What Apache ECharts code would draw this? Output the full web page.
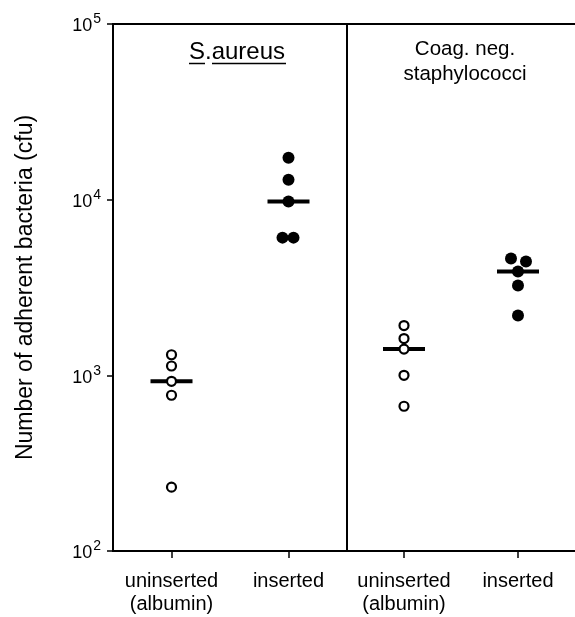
<!DOCTYPE html>
<html>
<head>
<meta charset="utf-8">
<script src="https://cdn.jsdelivr.net/npm/echarts@6/dist/echarts.min.js"></script>
<style>
    html, body { margin: 0; padding: 0; background: #fff; }
    #chart { width: 575px; height: 617px; }
</style>
</head>
<body>
<div id="chart"></div>
<script>
// categories per panel
const groups = ["uninserted\n(albumin)", "inserted"];

// S. aureus (cfu)
const saUninserted = [1310, 1130, 925, 770, 231];
const saInserted = [17300, 13000, 9750, 6080, 6080];
const saMeans = [925, 9750];

// coag. neg. staphylococci (cfu)
const cnUninserted = [1920, 1620, 1410, 1000, 667];
const cnInserted = [4620, 4450, 3900, 3250, 2190];
const cnMeans = [1410, 3900];

// y ticks
const yTicks = [100, 1000, 10000, 100000];

// horizontal jitter of overlapping dots (px)
const saInsertedJitter = [0, 0, 0, -6, 5];
const cnInsertedJitter = [-7, 8, 0, 0, 0];

const FONT = "Liberation Sans";

function pts(idx, vals, jitter) {
    return vals.map((v, i) => ({
        value: [idx, v],
        symbolOffset: [jitter ? jitter[i] : 0, 0],
    }));
}

function supLabel(v) {
    let e = Math.round(Math.log10(v));
    return "{b|10}{s|" + e + "}";
}

let chart = echarts.init(document.getElementById("chart"));

let axisLineStyle = { show: true, lineStyle: { color: "#000", width: 2 } };

let xAxisBase = {
    type: "category",
    data: groups,
    axisLine: axisLineStyle,
    axisTick: { show: true, alignWithLabel: true, length: 7, lineStyle: { color: "#000", width: 1.5 } },
    axisLabel: {
        color: "#000",
        fontFamily: FONT,
        fontSize: 20,
        lineHeight: 23,
        margin: 19,
        interval: 0,
    },
    splitLine: { show: false },
};

// top edge of the right panel (no labels, no ticks)
let xAxisTop = {
    type: "category",
    data: groups,
    position: "top",
    axisLine: axisLineStyle,
    axisTick: { show: false },
    axisLabel: { show: false },
    splitLine: { show: false },
};

let yAxisBase = {
    type: "log",
    logBase: 10,
    min: yTicks[0],
    max: yTicks[yTicks.length - 1],
    splitLine: { show: false },
    minorTick: { show: false },
};

let openStyle = { color: "#fff", borderColor: "#000", borderWidth: 2.2, opacity: 1 };
let fillStyle = { color: "#000", opacity: 1 };

function meanSeries(gi, means) {
    return {
        type: "scatter",
        xAxisIndex: gi,
        yAxisIndex: gi,
        symbol: "rect",
        symbolSize: [42, 4],
        itemStyle: { color: "#000", opacity: 1 },
        z: 2,
        silent: true,
        data: means.map((m, i) => [i, m]),
    };
}

function dotSeries(gi, idx, vals, jitter, open) {
    return {
        type: "scatter",
        xAxisIndex: gi,
        yAxisIndex: gi,
        symbol: "circle",
        symbolSize: open ? 9 : 12,
        itemStyle: open ? openStyle : fillStyle,
        z: 3,
        silent: true,
        data: pts(idx, vals, jitter),
    };
}

chart.setOption({
    animation: false,
    grid: [
        { left: 113, top: 24, width: 234, height: 527, show: true, borderColor: "#000", borderWidth: 2, backgroundColor: "transparent" },
        { left: 347, top: 24, width: 234, height: 527, show: false },
    ],
    xAxis: [
        Object.assign({ gridIndex: 0 }, xAxisBase),
        Object.assign({ gridIndex: 1 }, xAxisBase),
        Object.assign({ gridIndex: 1 }, xAxisTop),
    ],
    yAxis: [
        Object.assign({}, yAxisBase, {
            gridIndex: 0,
            name: "Number of adherent bacteria (cfu)",
            nameLocation: "middle",
            nameRotate: 90,
            nameGap: 76,
            nameTextStyle: { color: "#000", fontFamily: FONT, fontSize: 23 },
            axisLine: axisLineStyle,
            axisTick: { show: true, inside: false, length: 6, lineStyle: { color: "#000", width: 1.5 } },
            axisLabel: {
                show: true,
                margin: 12,
                formatter: supLabel,
                rich: {
                    b: { fontFamily: FONT, fontSize: 18, color: "#000", verticalAlign: "bottom" },
                    s: { fontFamily: FONT, fontSize: 14, color: "#000", verticalAlign: "bottom", padding: [0, 0, 9, 1] },
                },
            },
        }),
        Object.assign({}, yAxisBase, {
            gridIndex: 1,
            axisLine: { show: false },
            axisTick: { show: false },
            axisLabel: { show: false },
        }),
    ],
    graphic: [
        {
            type: "text",
            left: 189,
            top: 40,
            style: { text: "S.aureus", font: "24px " + FONT, fill: "#000" },
        },
        { type: "line", shape: { x1: 189, y1: 63.5, x2: 205, y2: 63.5 }, style: { stroke: "#000", lineWidth: 1.5 } },
        { type: "line", shape: { x1: 212, y1: 63.5, x2: 286, y2: 63.5 }, style: { stroke: "#000", lineWidth: 1.5 } },
        {
            type: "text",
            x: 465,
            y: 37,
            style: {
                text: "Coag. neg.\nstaphylococci",
                font: "20.5px " + FONT,
                fill: "#000",
                align: "center",
                lineHeight: 25,
            },
        },
    ],
    series: [
        meanSeries(0, saMeans),
        meanSeries(1, cnMeans),
        dotSeries(0, 0, saUninserted, null, true),
        dotSeries(0, 1, saInserted, saInsertedJitter, false),
        dotSeries(1, 0, cnUninserted, null, true),
        dotSeries(1, 1, cnInserted, cnInsertedJitter, false),
    ],
});
</script>
</body>
</html>
